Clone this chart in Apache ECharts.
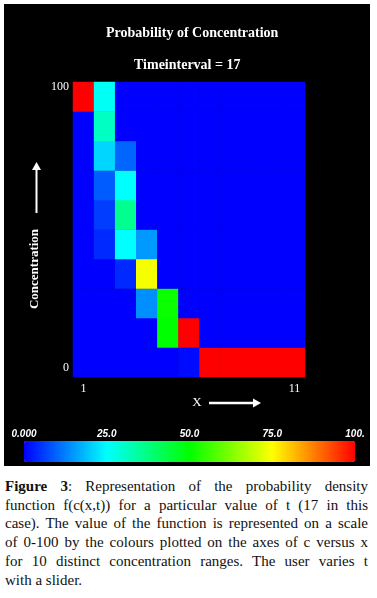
<!DOCTYPE html>
<html>
<head>
<meta charset="utf-8">
<script src="https://cdn.jsdelivr.net/npm/echarts@6/dist/echarts.min.js"></script>
<style>
  html, body { margin: 0; padding: 0; background: #ffffff; }
  #chart { position: absolute; left: 0; top: 0; width: 377px; height: 470px; }
  #caption { position: absolute; left: 5px; top: 477px; width: 363px;
    font-family: 'Liberation Serif', 'Times New Roman', serif; font-size: 15px;
    line-height: 18.7px; color: #111; }
  #caption div { text-align: justify; text-align-last: justify; white-space: nowrap; }
  #caption div.last { text-align-last: left; }
</style>
</head>
<body>
<div id="chart"></div>
<div id="caption">
  <div><b>Figure 3</b>: Representation of the probability density</div>
  <div>function f(c(x,t)) for a particular value of t (17 in this</div>
  <div>case). The value of the function is represented on a scale</div>
  <div>of 0-100 by the colours plotted on the axes of c versus x</div>
  <div>for 10 distinct concentration ranges. The user varies t</div>
  <div class="last">with a slider.</div>
</div>
<script>
// ---- data ----
const xCategories = ['1','2','3','4','5','6','7','8','9','10','11'];
const concBins = ['0-10','10-20','20-30','30-40','40-50','50-60','60-70','70-80','80-90','90-100'];
const xTickLabels = ['1', '11'];
const yTickLabels = ['0', '100'];           // bottom and top of the concentration axis
const colorbarTicks = [0, 25, 50, 75, 100];
const colorbarTickLabels = ['0.000', '25.0', '50.0', '75.0', '100.'];

// probability (0-100) per concentration bin, one value per x position
const c0_10   = [0, 0, 0, 0, 0, 1, 100, 100, 100, 100, 100];
const c10_20  = [0, 0, 0, 0, 50, 100, 0, 0, 0, 0, 0];
const c20_30  = [0, 0, 0, 14, 51, 0, 0, 0, 0, 0, 0];
const c30_40  = [0, 0, 4, 74, 0, 0, 0, 0, 0, 0, 0];
const c40_50  = [0, 4, 25, 15, 0, 0, 0, 0, 0, 0, 0];
const c50_60  = [0, 6, 36, 0, 0, 0, 0, 0, 0, 0, 0];
const c60_70  = [0, 9, 25, 0, 0, 0, 0, 0, 0, 0, 0];
const c70_80  = [0, 21, 10, 0, 0, 0, 0, 0, 0, 0, 0];
const c80_90  = [0, 31, 0, 0, 0, 0, 0, 0, 0, 0, 0];
const c90_100 = [100, 26, 0, 0, 0, 0, 0, 0, 0, 0, 0];
const binRows = [c0_10, c10_20, c20_30, c30_40, c40_50, c50_60, c60_70, c70_80, c80_90, c90_100];

const heatData = [];
binRows.forEach((row, yi) => row.forEach((v, xi) => heatData.push([xi, yi, v])));

const serif = "'Liberation Serif', 'Times New Roman', serif";
const chart = echarts.init(document.getElementById('chart'), null, { renderer: 'canvas' });

chart.setOption({
  backgroundColor: 'transparent',
  animation: false,
  title: [
    { text: 'Probability of Concentration', left: 101, top: 21,
      textStyle: { color: '#fff', fontFamily: serif, fontWeight: 'bold', fontSize: 14 } },
    { text: 'Timeinterval = 17', left: 129, top: 53,
      textStyle: { color: '#fff', fontFamily: serif, fontWeight: 'bold', fontSize: 14 } }
  ],
  grid: [
    { left: 73, top: 82, width: 232, height: 295 },
    { left: 24, top: 441, width: 331, height: 21 }
  ],
  xAxis: [
    { type: 'category', data: xCategories, gridIndex: 0,
      axisLine: { show: false }, axisTick: { show: false }, splitLine: { show: false },
      axisLabel: { color: '#fff', fontFamily: serif, fontSize: 12, margin: 6,
        interval: (i, v) => xTickLabels.includes(v) } },
    { type: 'value', gridIndex: 1, position: 'top', min: 0, max: 100, interval: 25,
      axisLine: { show: false }, axisTick: { show: false }, splitLine: { show: false },
      axisLabel: { color: '#fff', fontFamily: "'Liberation Sans', Arial, sans-serif",
        fontStyle: 'italic', fontWeight: 'bold', fontSize: 10, margin: 2,
        formatter: v => colorbarTickLabels[colorbarTicks.indexOf(v)] } }
  ],
  yAxis: [
    { type: 'category', data: concBins, gridIndex: 0,
      axisLine: { show: false }, axisTick: { show: false }, splitLine: { show: false },
      axisLabel: { color: '#fff', fontFamily: serif, fontSize: 12, margin: 4, interval: 0,
        formatter: (v, i) => i === 0 ? '{b|' + yTickLabels[0] + '}' :
                             (i === concBins.length - 1 ? '{t|' + yTickLabels[1] + '}' : ''),
        rich: {
          t: { color: '#fff', fontFamily: serif, fontSize: 12, padding: [0, 0, 19, 0] },
          b: { color: '#fff', fontFamily: serif, fontSize: 12, padding: [12, 0, 0, 0] }
        } } },
    { type: 'value', gridIndex: 1, show: false }
  ],
  visualMap: {
    type: 'continuous', min: 0, max: 100, seriesIndex: 0,
    orient: 'horizontal', left: 24, top: 441, itemWidth: 21, itemHeight: 331,
    padding: 0, calculable: false, text: null, showLabel: false, hoverLink: false,
    inRange: { color: ['#0000ff', '#00ffff', '#00ff00', '#ffff00', '#ff0000'] }
  },
  series: [{
    type: 'heatmap', xAxisIndex: 0, yAxisIndex: 0, data: heatData,
    itemStyle: { borderWidth: 0 }, emphasis: { disabled: true }, progressive: 0
  }],
  graphic: [
    { type: 'rect', z: -10, silent: true, shape: { x: 4, y: 4, width: 366, height: 462 },
      style: { fill: '#000' } },
    { type: 'text', x: 35, y: 269, rotation: Math.PI / 2,
      style: { text: 'Concentration', fill: '#fff', font: "bold 13px 'Liberation Serif', serif",
        textAlign: 'center', textVerticalAlign: 'middle' } },
    { type: 'line', shape: { x1: 36.5, y1: 213, x2: 36.5, y2: 168 },
      style: { stroke: '#fff', lineWidth: 2 } },
    { type: 'polygon', shape: { points: [[36.5, 162], [32, 170], [41, 170]] },
      style: { fill: '#fff' } },
    { type: 'text', x: 197, y: 403,
      style: { text: 'X', fill: '#fff', font: "13px 'Liberation Serif', serif",
        textAlign: 'center', textVerticalAlign: 'middle' } },
    { type: 'line', shape: { x1: 209, y1: 403, x2: 255, y2: 403 },
      style: { stroke: '#fff', lineWidth: 2.5 } },
    { type: 'polygon', shape: { points: [[261, 403], [253, 398.5], [253, 407.5]] },
      style: { fill: '#fff' } }
  ]
});
</script>
</body>
</html>
